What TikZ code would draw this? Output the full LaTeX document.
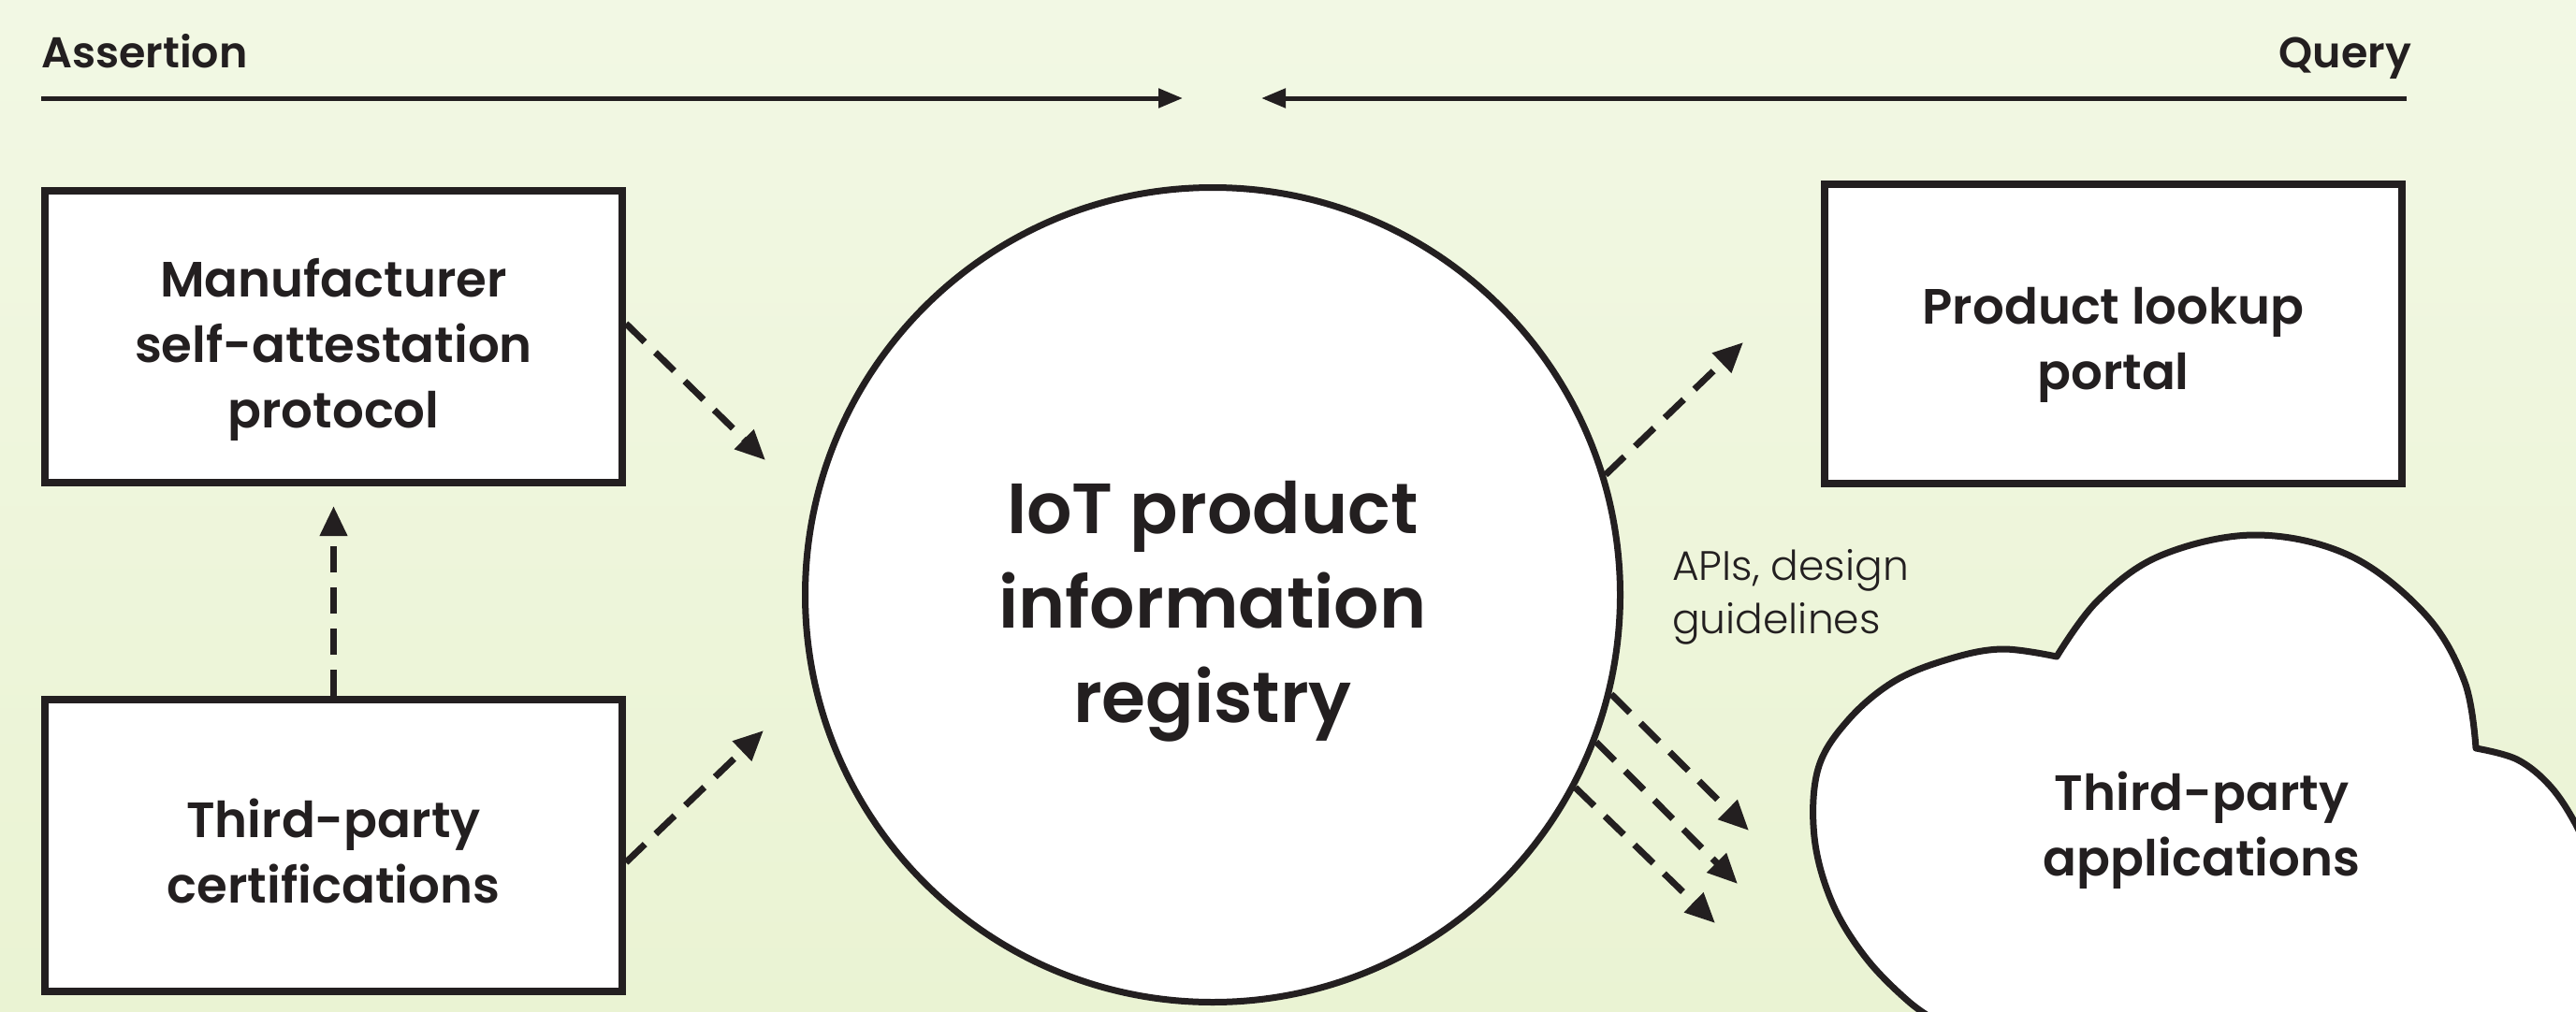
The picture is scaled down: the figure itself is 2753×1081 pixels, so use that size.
\documentclass[tikz,border=0pt]{standalone}
\usepackage{fontspec}
\setmainfont{Poppins}[BoldFont={Poppins SemiBold}]
\newfontfamily\lightfont{Poppins Light}
\usetikzlibrary{arrows.meta}
\definecolor{ink}{HTML}{231F20}
\definecolor{bgtop}{HTML}{F2F8E4}
\definecolor{bgbot}{HTML}{EAF3D3}
\newcommand{\boxfont}{\fontsize{53}{70}\selectfont\bfseries}
\begin{document}
\begin{tikzpicture}[x=1pt,y=-1pt,
  box/.style={draw=ink, line width=8pt, fill=white, minimum width=617pt, minimum height=312pt,
    inner sep=0pt, align=center, font=\boxfont, text=ink},
  toplabel/.style={font=\fontsize{46}{58}\selectfont\bfseries, text=ink, inner sep=0pt},
  topline/.style={draw=ink, line width=5pt, -{Triangle[length=26pt,width=20pt]}},
  dasharrow/.style={draw=ink, line width=7pt, dash pattern=on 28pt off 16pt,
    -{Triangle[length=32pt,width=28pt]}},
  cloudline/.style={draw=ink, line width=7pt, fill=white, line join=round}
]
\useasboundingbox (0,0) rectangle (2753,1081);
\shade[top color=bgtop, bottom color=bgbot] (0,0) rectangle (2753,1081);

% top labels and arrows
\node[toplabel, anchor=base west] (assert) at (44,72) {Assertion};
\node[toplabel, anchor=base east] (query) at (2577,72) {Query};
\coordinate (a1) at (44,105);
\coordinate (a2) at (1264,105);
\coordinate (q1) at (2572,105);
\coordinate (q2) at (1348,105);
\draw[topline] (a1) -- (a2);
\draw[topline] (q1) -- (q2);

% left boxes
\node[box] (manu) at (356.5,360) {};
\node[align=center, font=\boxfont, text=ink, inner sep=0pt] (manutxt) at (356.5,374) {Manufacturer\\self-attestation\\protocol};
\node[box] (cert) at (356.5,904) {};
\node[align=center, font=\boxfont, text=ink, inner sep=0pt] (certtxt) at (356.5,910) {Third-party\\certifications};

% central circle
\node[circle, draw=ink, line width=7pt, fill=white, minimum size=871pt, inner sep=0pt] (reg) at (1296,636) {};
\node[align=center, text=ink, inner sep=0pt, font=\fontsize{76}{101}\selectfont\bfseries] (regtxt) at (1296,654)
  {IoT product\\information\\registry};

% portal box
\node[box, minimum height=320pt] (portal) at (2258.5,357) {};
\node[align=center, font=\boxfont, text=ink, inner sep=0pt] (portaltxt) at (2258.5,369) {Product lookup\\portal};

% cloud
\begin{scope}
\clip (0,0) rectangle (2753,1081);
\draw[cloudline] plot[smooth, tension=0.6] coordinates {(2075,1095) (2040,1071) (1994,1024) (1958,965) (1939,895) (1943,822) (1975,770) (2025,728) (2085,704) (2140,694) (2198,702)}
  -- plot[smooth, tension=0.6] coordinates {(2198,702) (2242,642) (2309,594) (2410,572) (2511,594) (2592,657) (2634,729) (2646,800)}
  -- plot[smooth, tension=0.6] coordinates {(2646,800) (2690,812) (2725,840) (2752,880) (2772,925)}
  -- (2820,1140) -- (2075,1140) -- cycle;
\end{scope}
\node[align=center, text=ink, font=\boxfont, inner sep=0pt] (apps) at (2353,888) {Third-party\\applications};

% API label
\node[anchor=west, align=left, text=ink, inner sep=0pt, font=\fontsize{44}{57}\selectfont\lightfont] (api) at (1787,638) {APIs, design\\guidelines};

% dashed arrows
\coordinate (t1) at (818,492);
\coordinate (t2) at (816,781);
\coordinate (t3) at (356.5,541);
\coordinate (t4) at (1863,366);
\coordinate (t5) at (1869,888);
\coordinate (t6) at (1857,945);
\coordinate (t7) at (1833,987);
\draw[dasharrow] ([yshift=14pt]manu.east) -- (t1);
\draw[dasharrow] ([yshift=-18pt]cert.east) -- (t2);
\draw[dasharrow] (cert.north) -- (t3);
\draw[dasharrow] (reg.17) -- (t4);
\draw[dasharrow] (reg.-14) -- (t5);
\draw[dasharrow] (reg.-21) -- (t6);
\draw[dasharrow] (reg.-28) -- (t7);
\end{tikzpicture}
\end{document}
